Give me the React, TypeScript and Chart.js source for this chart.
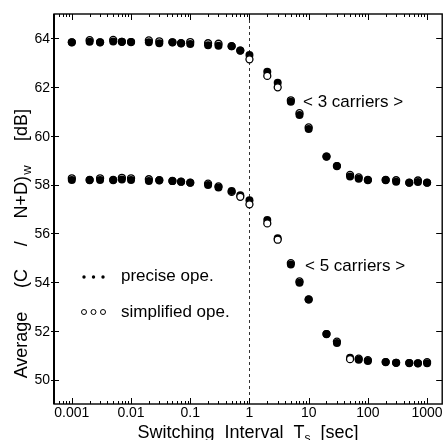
import React, { useEffect, useRef } from "react";
import { Chart, registerables } from "chart.js";

Chart.register(...registerables);

// Switching interval Ts [sec]
const intervals = [
  0.001, 0.002, 0.003, 0.005, 0.007, 0.01, 0.02, 0.03, 0.05, 0.07, 0.1, 0.2, 0.3, 0.5, 0.7,
  1, 2, 3, 5, 7, 10, 20, 30, 50, 70, 100, 200, 300, 500, 700, 1000,
];

// < 3 carriers >
const precise3 = [
  63.84, 63.86, 63.84, 63.87, 63.86, 63.85, 63.84, 63.8, 63.84, 63.8, 63.77, 63.72, 63.7, 63.68, 63.5,
  63.32, 62.63, 62.18, 61.4, 60.86, 60.28, 59.15, 58.76, 58.33, 58.24, 58.19, 58.19, 58.12, 58.08, 58.11, 58.08,
];
const simplified3 = [
  63.84, 63.93, 63.84, 63.94, 63.86, 63.85, 63.92, 63.88, 63.84, 63.8, 63.85, 63.8, 63.78, 63.68, 63.5,
  63.14, 62.46, 61.99, 61.46, 60.93, 60.35, 59.15, 58.76, 58.4, 58.3, 58.19, 58.19, 58.18, 58.08, 58.17, 58.08,
];

// < 5 carriers >
const precise5 = [
  58.19, 58.19, 58.19, 58.19, 58.21, 58.19, 58.15, 58.18, 58.15, 58.12, 58.08, 57.98, 57.88, 57.74, 57.56,
  57.36, 56.55, 55.8, 54.72, 53.97, 53.29, 51.87, 51.5, 50.9, 50.82, 50.76, 50.72, 50.69, 50.68, 50.67, 50.67,
];
const simplified5 = [
  58.26, 58.19, 58.26, 58.19, 58.28, 58.26, 58.22, 58.18, 58.15, 58.12, 58.08, 58.04, 57.93, 57.7, 57.5,
  57.19, 56.41, 55.74, 54.78, 54.03, 53.29, 51.87, 51.56, 50.84, 50.86, 50.8, 50.72, 50.69, 50.68, 50.67, 50.72,
];

const xTickValues = [0.001, 0.01, 0.1, 1, 10, 100, 1000];
const xTickLabels = ["0.001", "0.01", "0.1", "1", "10", "100", "1000"];
const yTickValues = [50, 52, 54, 56, 58, 60, 62, 64];
const yTickLabels = ["50", "52", "54", "56", "58", "60", "62", "64"];

const FONT = '"Liberation Sans", Arial, Helvetica, sans-serif';

type Part = [string, boolean];

function drawRich(ctx: CanvasRenderingContext2D, parts: Part[], cx: number, cy: number, size: number, subSize: number, subDy: number) {
  let total = 0;
  const widths: number[] = [];
  for (const [t, sub] of parts) {
    ctx.font = `${sub ? subSize : size}px ${FONT}`;
    const w = ctx.measureText(t).width;
    widths.push(w);
    total += w;
  }
  let x = cx - total / 2;
  parts.forEach(([t, sub], i) => {
    ctx.font = `${sub ? subSize : size}px ${FONT}`;
    ctx.fillText(t, x, cy + (sub ? subDy : 0));
    x += widths[i];
  });
}

// draws words centred at (cx, cy), spread with equal gaps to a given total length
function drawWords(ctx: CanvasRenderingContext2D, words: string[], cx: number, cy: number, length: number) {
  const ws = words.map((w) => ctx.measureText(w).width);
  const natural = ws.reduce((a, b) => a + b, 0);
  const gap = words.length > 1 ? Math.max(0, (length - natural) / (words.length - 1)) : 0;
  const total = natural + gap * (words.length - 1);
  let x = cx - total / 2;
  words.forEach((w, i) => {
    ctx.fillText(w, x, cy);
    x += ws[i] + gap;
  });
}

const customPlugin = {
  id: "paperStyle",
  beforeDatasetsDraw(chart: any) {
    const { ctx, chartArea, scales } = chart;
    const x1 = scales.x.getPixelForValue(1);
    ctx.save();
    ctx.strokeStyle = "#333";
    ctx.lineWidth = 1;
    ctx.setLineDash([3, 3]);
    ctx.beginPath();
    ctx.moveTo(Math.round(x1) + 0.5, chartArea.top);
    ctx.lineTo(Math.round(x1) + 0.5, chartArea.bottom);
    ctx.stroke();
    ctx.restore();
  },
  afterDraw(chart: any) {
    const { ctx, chartArea, scales } = chart;
    const { left, right, top, bottom } = chartArea;
    const xs = scales.x;
    const ys = scales.y;
    ctx.save();
    ctx.fillStyle = "#000";
    ctx.strokeStyle = "#000";

    // frame
    ctx.lineWidth = 1.4;
    ctx.strokeRect(left, top, right - left, bottom - top);
    ctx.lineWidth = 2;
    ctx.beginPath();
    ctx.moveTo(left, top);
    ctx.lineTo(left, bottom);
    ctx.stroke();

    // x ticks
    ctx.lineWidth = 1;
    const minX = xs.min;
    const maxX = xs.max;
    for (let e = -4; e <= 3; e++) {
      const d = Math.pow(10, e);
      for (let k = 1; k <= 9; k++) {
        const v = k * d;
        if (v < minX || v > maxX) continue;
        const px = Math.round(xs.getPixelForValue(v)) + 0.5;
        const len = k === 1 ? 6 : 3;
        ctx.beginPath();
        ctx.moveTo(px, bottom);
        ctx.lineTo(px, bottom - len);
        ctx.moveTo(px, top);
        ctx.lineTo(px, top + len);
        ctx.stroke();
      }
    }
    // y ticks
    yTickValues.forEach((v) => {
      const py = Math.round(ys.getPixelForValue(v)) + 0.5;
      ctx.beginPath();
      ctx.moveTo(left - 3, py);
      ctx.lineTo(left + 5, py);
      ctx.moveTo(right - 6, py);
      ctx.lineTo(right, py);
      ctx.stroke();
    });

    // tick labels
    ctx.font = `14px ${FONT}`;
    ctx.textAlign = "center";
    ctx.textBaseline = "top";
    xTickValues.forEach((v, i) => {
      ctx.fillText(xTickLabels[i], xs.getPixelForValue(v), bottom + 2);
    });
    ctx.textAlign = "right";
    ctx.textBaseline = "middle";
    yTickValues.forEach((v, i) => {
      ctx.fillText(yTickLabels[i], left - 4, ys.getPixelForValue(v) + 1);
    });

    // x axis title
    ctx.textAlign = "left";
    ctx.textBaseline = "alphabetic";
    drawRich(ctx, [["Switching  Interval  T", false], ["s", true], ["  [sec]", false]], 248, 438, 18, 12, 4);

    // y axis title (rotated)
    ctx.save();
    ctx.translate(27, 0);
    ctx.rotate(-Math.PI / 2);
    ctx.font = `18px ${FONT}`;
    drawWords(ctx, ["Average"], -345, 0, 66);
    drawWords(ctx, ["(C", "/", "N+D)"], -232, 0, 112);
    ctx.font = `13px ${FONT}`;
    drawWords(ctx, ["w"], -170, 4, 0);
    ctx.font = `18px ${FONT}`;
    drawWords(ctx, ["[dB]"], -125, 0, 36);
    ctx.restore();

    // annotations
    ctx.font = `17px ${FONT}`;
    ctx.fillText("< 3 carriers >", 303, 107);
    ctx.fillText("< 5 carriers >", 305, 271);

    // legend
    ctx.fillText("precise ope.", 121, 281);
    ctx.fillText("simplified ope.", 121, 317);
    [84, 93.5, 103].forEach((x) => {
      ctx.beginPath();
      ctx.arc(x, 277, 1.7, 0, Math.PI * 2);
      ctx.fill();
      ctx.beginPath();
      ctx.lineWidth = 1;
      ctx.arc(x, 312, 2.5, 0, Math.PI * 2);
      ctx.stroke();
    });
    ctx.restore();
  },
};

export default function App() {
  const ref = useRef<HTMLCanvasElement>(null);
  useEffect(() => {
    const canvas = ref.current!;
    const pts = (ys: number[]) => intervals.map((x, i) => ({ x, y: ys[i] }));
    const openBg = (sim: number[], prec: number[]) => (c: any) => {
      const i = c.dataIndex;
      return sim[i] < prec[i] - 0.04 ? "#ffffff" : "rgba(255,255,255,0)";
    };
    const openDs = (label: string, sim: number[], prec: number[]) => ({
      label,
      data: pts(sim),
      pointRadius: 3.5,
      pointHoverRadius: 3.5,
      pointBorderWidth: 1.3,
      pointBorderColor: "#000",
      pointBackgroundColor: openBg(sim, prec),
      showLine: false,
    });
    const filledDs = (label: string, prec: number[]) => ({
      label,
      data: pts(prec),
      pointRadius: 4,
      pointHoverRadius: 4,
      pointBorderWidth: 0,
      pointBorderColor: "#000",
      pointBackgroundColor: "#000",
      showLine: false,
    });
    const chart = new Chart(canvas, {
      type: "scatter",
      data: {
        datasets: [
          openDs("simplified ope. (3 carriers)", simplified3, precise3),
          openDs("simplified ope. (5 carriers)", simplified5, precise5),
          filledDs("precise ope. (3 carriers)", precise3),
          filledDs("precise ope. (5 carriers)", precise5),
        ],
      },
      options: {
        responsive: false,
        animation: false,
        layout: { padding: { left: 0, right: 3, top: 14, bottom: 0 } },
        plugins: { legend: { display: false }, tooltip: { enabled: false } },
        scales: {
          x: {
            type: "logarithmic",
            min: 0.0005,
            max: 1800,
            grid: { display: false },
            border: { display: false },
            ticks: { display: false },
            afterFit(s: any) {
              s.height = 36;
            },
          },
          y: {
            type: "linear",
            min: 49,
            max: 65,
            grid: { display: false },
            border: { display: false },
            ticks: { display: false },
            afterFit(s: any) {
              s.width = 54;
            },
          },
        },
      } as any,
      plugins: [customPlugin],
    });
    return () => chart.destroy();
  }, []);
  return (
    <div style={{ position: "fixed", left: 0, top: 0, width: 447, height: 440, background: "#fff" }}>
      <canvas ref={ref} width={447} height={440} style={{ display: "block", width: 447, height: 440 }} />
    </div>
  );
}
